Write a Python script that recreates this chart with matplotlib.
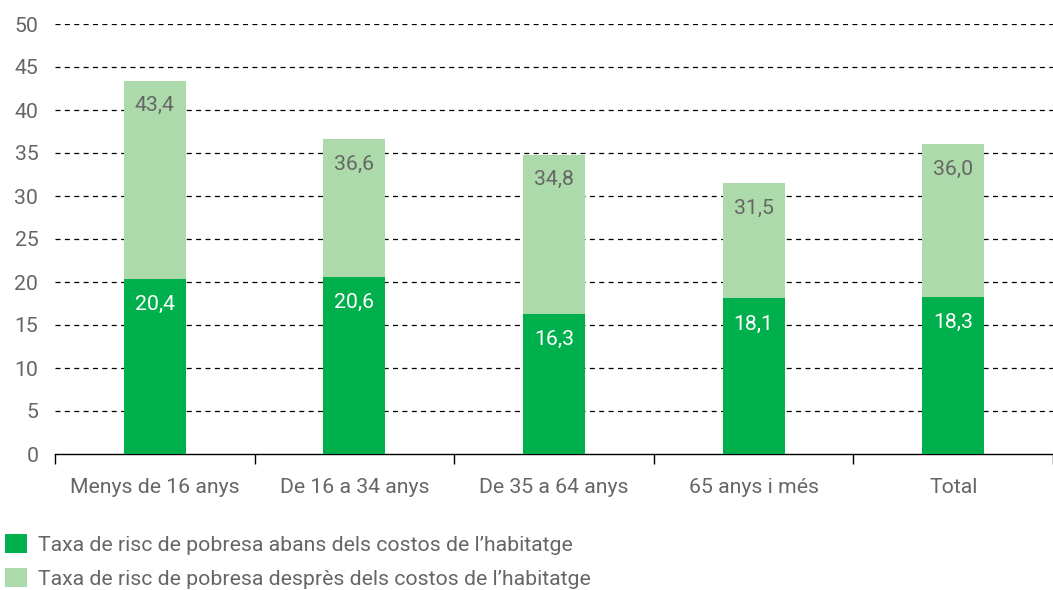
import numpy as np
import matplotlib
matplotlib.use("Agg")
import matplotlib.pyplot as plt

plt.rcParams["font.family"] = ["Roboto", "DejaVu Sans"]

# ---- dades ----
categories = ["Menys de 16 anys", "De 16 a 34 anys", "De 35 a 64 anys",
              "65 anys i més", "Total"]
abans = [20.4, 20.6, 16.3, 18.1, 18.3]
despres = [43.4, 36.6, 34.8, 31.5, 36.0]
yticks = [0, 5, 10, 15, 20, 25, 30, 35, 40, 45, 50]
legend_labels = ["Taxa de risc de pobresa abans dels costos de l\u2019habitatge",
                 "Taxa de risc de pobresa desprès dels costos de l\u2019habitatge"]

DARK = "#00B04C"
LIGHT = "#ADDAAA"
GREY = "#666666"
FS = 15.3

fig = plt.figure(figsize=(10.53, 5.90), dpi=100)
ax = fig.add_axes([55 / 1053, 1 - 454 / 590, 1 - 55 / 1053, (454 - 24) / 590])

x = np.arange(len(categories))
W = 0.31
b_light = ax.bar(x, despres, W, color=LIGHT, zorder=3, label=legend_labels[1])
b_dark = ax.bar(x, abans, W, color=DARK, zorder=4, label=legend_labels[0])

for xi, v in zip(x, despres):
    ax.annotate(f"{v:.1f}".replace(".", ","), (xi, v), xytext=(0, -25),
                textcoords="offset pixels", ha="center", va="center",
                fontsize=FS, color=GREY, zorder=5)
for xi, v in zip(x, abans):
    ax.annotate(f"{v:.1f}".replace(".", ","), (xi, v), xytext=(0, -26),
                textcoords="offset pixels", ha="center", va="center",
                fontsize=FS, color="white", zorder=5)

ax.set_xlim(-0.5, 4.5)
ax.set_ylim(0, 50)
ax.set_yticks(yticks)
for t in yticks[1:]:
    ax.axhline(t, color="black", lw=0.9, ls=(0, (4, 3.5)), zorder=1)

ax.set_xticks(x)
ax.set_xticklabels(categories)
ax.set_xticks(np.arange(-0.5, 5.0, 1.0), minor=True)
ax.tick_params(axis="x", which="major", length=0, pad=17, labelsize=FS,
               labelcolor=GREY)
ax.tick_params(axis="x", which="minor", length=7, width=1, color="black",
               direction="out")
ax.tick_params(axis="y", length=0, pad=12, labelsize=FS, labelcolor=GREY)

for s in ("top", "right", "left"):
    ax.spines[s].set_visible(False)
ax.spines["bottom"].set_color("black")
ax.spines["bottom"].set_linewidth(1)

fig.legend(handles=[b_dark, b_light], labels=legend_labels,
           loc="lower left", bbox_to_anchor=(-0.003, -0.012), frameon=False,
           fontsize=FS, labelcolor=GREY, handlelength=1.0, handleheight=1.0,
           handletextpad=0.55, labelspacing=0.62, borderaxespad=0.2,
           borderpad=0.2)

fig.savefig("out.png", dpi=100)
